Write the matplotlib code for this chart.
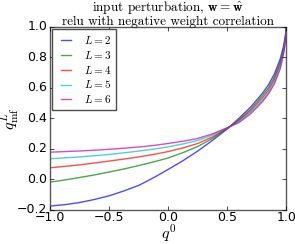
import matplotlib
matplotlib.use('Agg')
import matplotlib.pyplot as plt

# input correlation q^0
q0 = [-1.0, -0.875, -0.75, -0.625, -0.5, -0.375, -0.25, -0.125, 0.0, 0.125, 0.25, 0.375,
      0.5, 0.6, 0.7, 0.8, 0.85, 0.9, 0.95, 0.98, 0.995, 1.0]

# mean-field output correlation
depths = [2, 3, 4, 5, 6]
q_L2 = [-0.175, -0.166, -0.152, -0.132, -0.108, -0.076, -0.04, 0.01, 0.065, 0.122, 0.185, 0.255,
        0.33, 0.40, 0.475, 0.565, 0.62, 0.69, 0.79, 0.88, 0.95, 1.0]
q_L3 = [-0.018, -0.004, 0.012, 0.029, 0.048, 0.068, 0.09, 0.114, 0.14, 0.175, 0.215, 0.268,
        0.333, 0.39, 0.46, 0.55, 0.60, 0.67, 0.77, 0.865, 0.94, 1.0]
q_L4 = [0.076, 0.085, 0.095, 0.107, 0.12, 0.133, 0.147, 0.163, 0.182, 0.206, 0.235, 0.278,
        0.335, 0.385, 0.45, 0.535, 0.585, 0.655, 0.755, 0.85, 0.93, 1.0]
q_L5 = [0.135, 0.141, 0.147, 0.155, 0.163, 0.174, 0.185, 0.198, 0.213, 0.232, 0.255, 0.29,
        0.337, 0.378, 0.44, 0.52, 0.57, 0.64, 0.74, 0.84, 0.92, 1.0]
q_L6 = [0.178, 0.182, 0.186, 0.191, 0.197, 0.204, 0.212, 0.222, 0.235, 0.25, 0.268, 0.298,
        0.338, 0.372, 0.43, 0.51, 0.56, 0.625, 0.725, 0.83, 0.91, 1.0]
curves = [q_L2, q_L3, q_L4, q_L5, q_L6]
colors = ['b', 'g', 'r', 'c', 'm']

plt.style.use('classic')
plt.rcParams['mathtext.fontset'] = 'cm'

fig = plt.figure(figsize=(2.95, 2.44), dpi=100)
ax = fig.add_axes([0.17, 0.14, 0.80, 0.75])

for L, q, c in zip(depths, curves, colors):
    ax.plot(q0, q, color=c, alpha=0.7, lw=1.0, label=r'$L=%d$' % L)

ax.set_xlim(-1.0, 1.0)
ax.set_ylim(-0.2, 1.0)
ax.set_xticks([-1.0, -0.5, 0.0, 0.5, 1.0])
ax.set_yticks([-0.2, 0.0, 0.2, 0.4, 0.6, 0.8, 1.0])
ax.tick_params(labelsize=9, length=3)
ax.tick_params(axis='x', pad=1)
ax.tick_params(axis='y', pad=2)
for sp in ax.spines.values():
    sp.set_color('0.35')

ax.set_xlabel(r'$q^0$', fontsize=11.5, labelpad=-1)
ax.set_ylabel(r'$q^L_{\rm mf}$', fontsize=11.5, labelpad=-3)
ax.set_title('input perturbation, $\\mathbf{w}=\\hat{\\mathbf{w}}$\nrelu with negative weight correlation',
             fontsize=9.5, fontfamily='cmr10', linespacing=1.0, pad=1)

leg = ax.legend(loc='upper left', fontsize=8, handlelength=1.5, labelspacing=0.25,
                borderpad=0.45, handletextpad=0.9, borderaxespad=0.2)
leg.get_frame().set_edgecolor('0.3')

fig.savefig('out.png', dpi=100)
